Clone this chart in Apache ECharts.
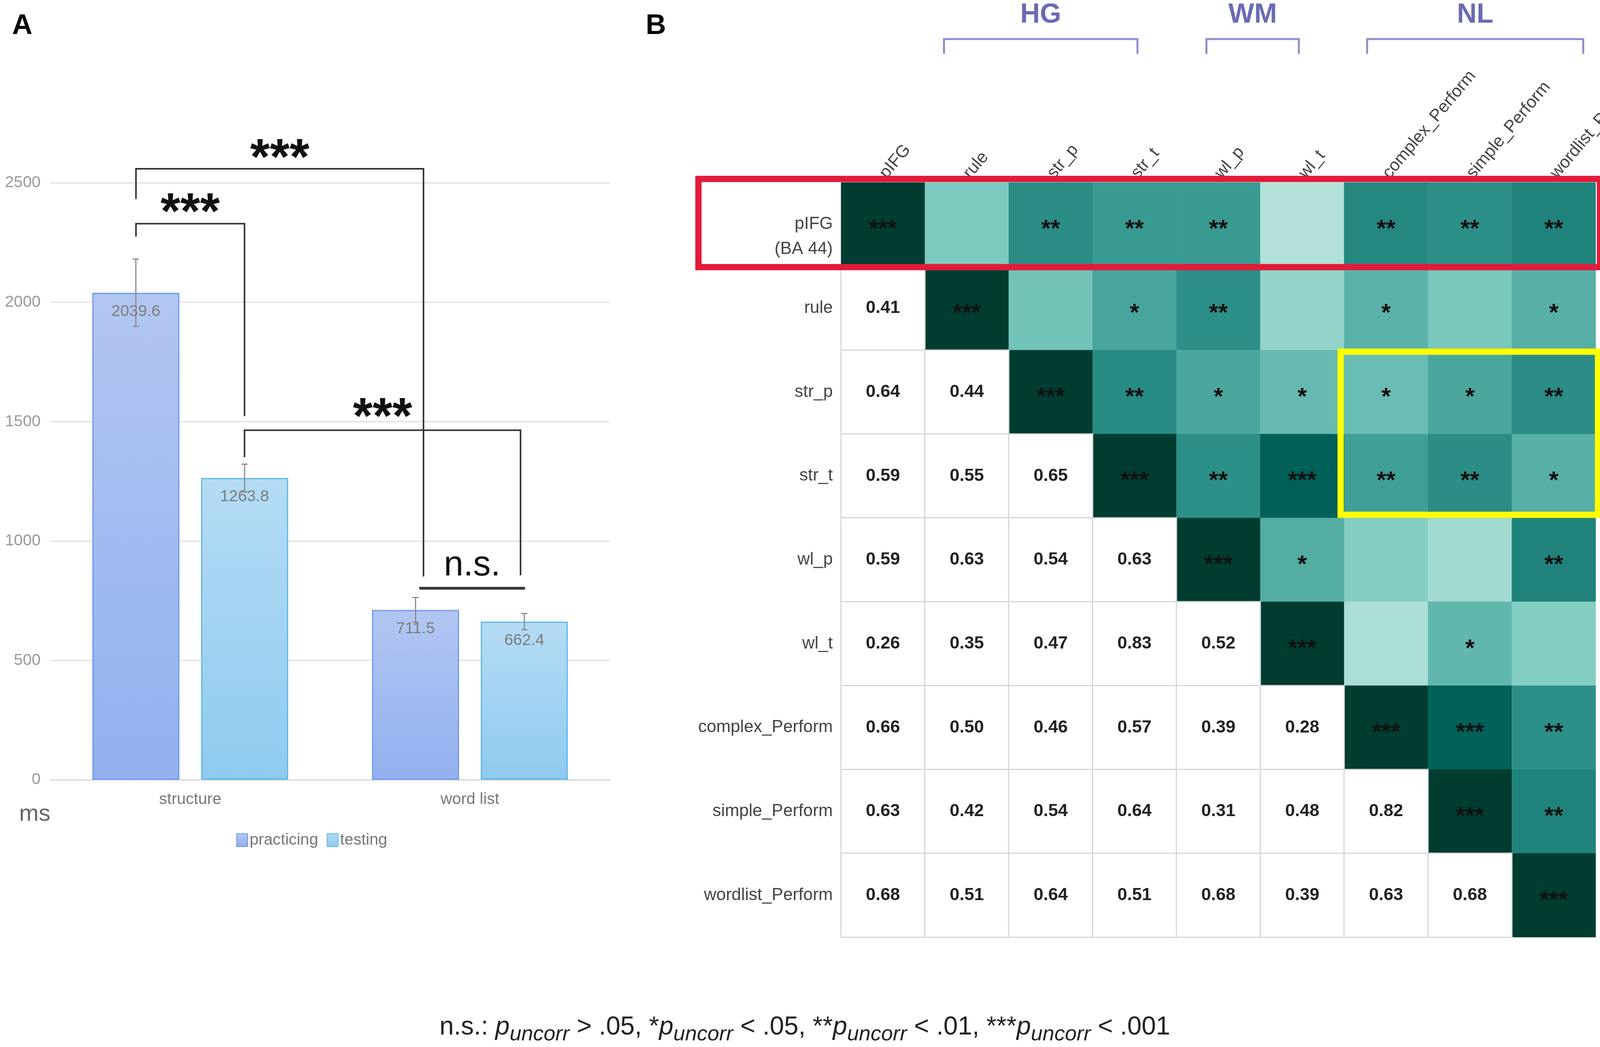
<!DOCTYPE html>
<html>
<head>
<meta charset="utf-8">
<script src="https://cdn.jsdelivr.net/npm/echarts@6/dist/echarts.min.js"></script>
<style>
  html, body { margin: 0; padding: 0; background: #fff; }
  #main { width: 4316px; height: 2680px; }
</style>
</head>
<body>
<div id="main"></div>
<script>
// panel A: reaction times
let conditions = ['structure', 'word list']
let practicing = [2039.6, 711.5]
let testing = [1263.8, 662.4]
let practicingErr = [141, 52]
let testingErr = [58, 34]

// significance brackets: [xFrom, xTo, yLeftEnd, yTop, yRightEnd, labelY, label]
// x in category units (0 = structure, 1 = word list), y in ms
let brackets = [
    [-0.194, 0.834, 2432, 2559, 851, 2594, '***'],
    [-0.194, 0.194, 2275, 2329, 1523, 2367, '***'],
    [0.194, 1.181, 1351, 1464, 856, 1510, '***'],
    [0.819, 1.197, 802, 802, 802, 897, 'n.s.']
]

// panel B: correlation matrix
let vars = ['pIFG', 'rule', 'str_p', 'str_t', 'wl_p', 'wl_t', 'complex_Perform', 'simple_Perform', 'wordlist_Perform']
let corrLower = [
    [],
    [0.41],
    [0.64, 0.44],
    [0.59, 0.55, 0.65],
    [0.59, 0.63, 0.54, 0.63],
    [0.26, 0.35, 0.47, 0.83, 0.52],
    [0.66, 0.50, 0.46, 0.57, 0.39, 0.28],
    [0.63, 0.42, 0.54, 0.64, 0.31, 0.48, 0.82],
    [0.68, 0.51, 0.64, 0.51, 0.68, 0.39, 0.63, 0.68]
]
// number of stars in the upper triangle, row i starting at the diagonal
let starsUpper = [
    [3, 0, 2, 2, 2, 0, 2, 2, 2],
    [3, 0, 1, 2, 0, 1, 0, 1],
    [3, 2, 1, 1, 1, 1, 2],
    [3, 2, 3, 2, 2, 1],
    [3, 1, 0, 0, 2],
    [3, 0, 1, 0],
    [3, 3, 2],
    [3, 2],
    [3]
]
// variable groups over the columns: [name, from, to] in column units
let colGroups = [
    ['HG', 0.728, 3.035],
    ['WM', 3.858, 4.96],
    ['NL', 5.774, 8.351]
]
// highlighted blocks: [colFrom, colTo, rowFrom, rowTo]
let highlights = [
    [0, 8, 0, 0],
    [6, 8, 2, 3]
]
let brbg = ['#543005', '#8c510a', '#bf812d', '#dfc27d', '#f6e8c3', '#ffffff',
    '#c7eae5', '#80cdc1', '#35978f', '#01665e', '#003c30']

const FONT = 'Liberation Sans, Arial, sans-serif'

// cells
let upperCells = []
let lowerCells = []
for (let i = 0; i < vars.length; i++) {
    for (let j = 0; j < vars.length; j++) {
        if (j >= i) {
            let r = j === i ? 1 : corrLower[j][i]
            upperCells.push([j, i, r, starsUpper[i][j - i]])
        } else {
            lowerCells.push([j, i, corrLower[i][j]])
        }
    }
}

// bar offset inside a category (barCategoryGap 30%, barGap 25%)
const catGap = 0.30, barGap = 0.25
const barW = (1 - catGap) / (2 + barGap)
const barOffset = (barW * (1 + barGap)) / 2

function catX(api, t) {
    return api.coord([0, 0])[0] + t * api.size([1, 1])[0]
}

function vGrad(top, bottom) {
    return new echarts.graphic.LinearGradient(0, 0, 0, 1, [
        {offset: 0, color: top}, {offset: 1, color: bottom}
    ])
}

let barLabel = {
    show: true,
    position: 'insideTop',
    distance: 28,
    fontSize: 41,
    fontFamily: FONT,
    color: '#7d7d7d',
    formatter: p => p.value.toFixed(1)
}

let myChart = echarts.init(document.getElementById('main'))

let option = {
    backgroundColor: '#fff',
    animation: false,
    title: [
        {text: 'A', left: 26, top: 26, textStyle: {fontSize: 72, fontWeight: 'bold', color: '#000', fontFamily: FONT}},
        {text: 'B', left: 1648, top: 26, textStyle: {fontSize: 72, fontWeight: 'bold', color: '#000', fontFamily: FONT}},
        {
            text: 'n.s.: {i|p}{s|uncorr} > .05, *{i|p}{s|uncorr} < .05, **{i|p}{s|uncorr} < .01, ***{i|p}{s|uncorr} < .001',
            left: 1120, top: 2580,
            textStyle: {
                fontSize: 66, color: '#222', fontWeight: 'normal', fontFamily: FONT, lineHeight: 90,
                rich: {
                    i: {fontSize: 66, fontStyle: 'italic', color: '#222', fontFamily: FONT, lineHeight: 90},
                    s: {fontSize: 54, fontStyle: 'italic', color: '#222', fontFamily: FONT, lineHeight: 54, verticalAlign: 'bottom'}
                }
            }
        }
    ],
    legend: {
        data: ['practicing', 'testing'],
        left: 600, top: 2125,
        icon: 'rect',
        itemWidth: 28, itemHeight: 33, itemGap: 22,
        textStyle: {fontSize: 41, color: '#777', fontFamily: FONT}
    },
    visualMap: {
        type: 'continuous',
        show: false,
        min: -1, max: 1,
        dimension: 2,
        seriesIndex: 3,
        inRange: {color: brbg}
    },
    grid: [
        {left: 129, top: 468, width: 1432, height: 1528, outerBoundsMode: 'none'},
        {left: 2153, top: 467, width: 1932, height: 1932, outerBoundsMode: 'none'},
        {left: 4120, top: 467, width: 72, height: 1933, outerBoundsMode: 'none'}
    ],
    xAxis: [
        {
            gridIndex: 0, type: 'category', data: conditions,
            axisTick: {show: false},
            axisLine: {lineStyle: {color: '#d4d4d4', width: 3}},
            axisLabel: {fontSize: 41, color: '#777', margin: 30, fontFamily: FONT}
        },
        {
            gridIndex: 1, type: 'category', data: vars, position: 'top',
            axisTick: {show: false}, axisLine: {show: false},
            axisLabel: {rotate: -50, interval: 0, fontSize: 44, color: '#444', margin: 16, fontFamily: FONT}
        },
        {gridIndex: 2, type: 'category', data: ['c'], show: false}
    ],
    yAxis: [
        {
            gridIndex: 0, type: 'value', min: 0, max: 2500, interval: 500,
            name: 'ms', nameLocation: 'start', nameGap: 58,
            nameTextStyle: {fontSize: 60, color: '#666', fontFamily: FONT, padding: [0, 80, 0, 0]},
            axisLine: {show: false}, axisTick: {show: false},
            axisLabel: {fontSize: 41, color: '#999', margin: 25, fontFamily: FONT, formatter: v => String(v)},
            splitLine: {lineStyle: {color: '#e0e0e0', width: 3}}
        },
        {
            gridIndex: 1, type: 'category', data: vars, inverse: true,
            axisTick: {show: false}, axisLine: {show: false},
            axisLabel: {
                fontSize: 44, color: '#444', margin: 21, fontFamily: FONT, lineHeight: 64,
                formatter: v => v === 'pIFG' ? '\npIFG\n(BA 44)' : v
            }
        },
        {
            gridIndex: 2, type: 'value', min: -1, max: 1, interval: 0.2, position: 'right',
            axisLine: {show: true, lineStyle: {color: '#333', width: 3}},
            axisTick: {show: true, length: 13, lineStyle: {color: '#333', width: 3}},
            axisLabel: {fontSize: 35, color: '#444', margin: 54, fontFamily: FONT},
            splitLine: {show: false}
        }
    ],
    series: [
        {
            name: 'practicing', type: 'bar', xAxisIndex: 0, yAxisIndex: 0,
            data: practicing, barGap: '25%', barCategoryGap: '30%',
            itemStyle: {color: vGrad('#b2c6f2', '#93b0ef'), borderColor: '#6f96e8', borderWidth: 3},
            label: barLabel
        },
        {
            name: 'testing', type: 'bar', xAxisIndex: 0, yAxisIndex: 0,
            data: testing, barGap: '25%', barCategoryGap: '30%',
            itemStyle: {color: vGrad('#b4dbf4', '#8ecbef'), borderColor: '#5cb6e6', borderWidth: 3},
            label: barLabel
        },
        {
            // error bars
            type: 'custom', xAxisIndex: 0, yAxisIndex: 0, clip: false, z: 5,
            data: practicing.map((v, i) => [i, v, practicingErr[i], -1])
                .concat(testing.map((v, i) => [i, v, testingErr[i], 1])),
            renderItem: (params, api) => {
                let i = api.value(0), v = api.value(1), e = api.value(2), side = api.value(3)
                let x = catX(api, i + side * barOffset)
                let y1 = api.coord([0, v + e])[1]
                let y2 = api.coord([0, v - e])[1]
                let st = {stroke: '#8a8a8a', lineWidth: 3}
                return {
                    type: 'group', children: [
                        {type: 'line', shape: {x1: x, y1: y1, x2: x, y2: y2}, style: st},
                        {type: 'line', shape: {x1: x - 8, y1: y1, x2: x + 8, y2: y1}, style: st},
                        {type: 'line', shape: {x1: x - 8, y1: y2, x2: x + 8, y2: y2}, style: st}
                    ]
                }
            }
        },
        {
            // correlation cells, upper triangle
            type: 'heatmap', xAxisIndex: 1, yAxisIndex: 1,
            data: upperCells,
            itemStyle: {borderWidth: 0},
            label: {
                show: true, fontSize: 62, fontWeight: 'bold', color: '#111', fontFamily: FONT,
                offset: [0, 14],
                formatter: p => '*'.repeat(p.value[3])
            },
            emphasis: {disabled: true}
        },
        {
            // correlation values, lower triangle
            type: 'heatmap', xAxisIndex: 1, yAxisIndex: 1,
            data: lowerCells,
            itemStyle: {color: '#fff', borderColor: '#d6d6d6', borderWidth: 3},
            label: {
                show: true, fontSize: 45, fontWeight: 'bold', color: '#222', fontFamily: FONT,
                formatter: p => p.value[2].toFixed(2)
            },
            emphasis: {disabled: true}
        },
        {
            // significance brackets in panel A
            type: 'custom', xAxisIndex: 0, yAxisIndex: 0, clip: false, z: 6,
            data: brackets.map(b => b.slice(0, 6)),
            renderItem: (params, api) => {
                let b = brackets[params.dataIndex]
                let x0 = catX(api, b[0]), x1 = catX(api, b[1])
                let yL = api.coord([0, b[2]])[1], yT = api.coord([0, b[3]])[1], yR = api.coord([0, b[4]])[1]
                let yLab = api.coord([0, b[5]])[1]
                let isNs = b[6] === 'n.s.'
                return {
                    type: 'group', children: [
                        {
                            type: 'polyline',
                            shape: {points: [[x0, yL], [x0, yT], [x1, yT], [x1, yR]]},
                            style: {stroke: '#333', lineWidth: isNs ? 7 : 4, fill: null}
                        },
                        {
                            type: 'text', x: (x0 + x1) / 2, y: yLab,
                            style: {
                                text: b[6], fill: '#111', fontFamily: FONT,
                                fontSize: isNs ? 90 : 130, fontWeight: isNs ? 'normal' : 'bold',
                                align: 'center', verticalAlign: 'middle'
                            }
                        }
                    ]
                }
            }
        },
        {
            // group headers over the matrix
            type: 'custom', xAxisIndex: 1, yAxisIndex: 1, clip: false, z: 6,
            data: colGroups.map(g => [g[1], g[2]]),
            renderItem: (params, api) => {
                let g = colGroups[params.dataIndex]
                let x0 = catX(api, g[1]), x1 = catX(api, g[2])
                let top = api.coord([0, 0])[1] - api.size([1, 1])[1] / 2
                let yT = top - 367, yLeg = top - 329
                return {
                    type: 'group', children: [
                        {
                            type: 'polyline',
                            shape: {points: [[x0, yLeg], [x0, yT], [x1, yT], [x1, yLeg]]},
                            style: {stroke: '#8c8cd2', lineWidth: 5, fill: null}
                        },
                        {
                            type: 'text', x: (x0 + x1) / 2, y: top - 428,
                            style: {
                                text: g[0], fill: '#6a6ab4', fontFamily: FONT, fontSize: 70, fontWeight: 'bold',
                                align: 'center', verticalAlign: 'middle'
                            }
                        }
                    ]
                }
            }
        },
        {
            // highlight boxes
            type: 'custom', xAxisIndex: 1, yAxisIndex: 1, clip: false, z: 7,
            data: highlights,
            renderItem: (params, api) => {
                let h = highlights[params.dataIndex]
                let cw = api.size([1, 1])[0], ch = api.size([1, 1])[1]
                let c0 = api.coord([0, 0])
                let left = c0[0] - cw / 2 + h[0] * cw
                let right = c0[0] - cw / 2 + (h[1] + 1) * cw
                let top = c0[1] - ch / 2 + h[2] * ch
                let bottom = c0[1] - ch / 2 + (h[3] + 1) * ch
                // red box reaches over the row label, yellow box sits on the cells
                let pad = params.dataIndex === 0 ? [365, 11, 9, -2] : [9, 6, -4, 8]
                let color = params.dataIndex === 0 ? '#e31b3b' : '#ffff00'
                return {
                    type: 'rect',
                    shape: {
                        x: left - pad[0], y: top - pad[2],
                        width: right - left + pad[0] + pad[1],
                        height: bottom - top + pad[2] - pad[3]
                    },
                    style: {stroke: color, lineWidth: 16, fill: null}
                }
            }
        },
        {
            // colour bar
            type: 'custom', xAxisIndex: 2, yAxisIndex: 2, clip: false,
            data: [[0, 1]],
            renderItem: (params, api) => {
                let top = api.coord([0, 1])
                let bottom = api.coord([0, -1])
                let w = api.size([1, 1])[0]
                let stops = brbg.map((c, k) => ({offset: k / (brbg.length - 1), color: brbg[brbg.length - 1 - k]}))
                return {
                    type: 'rect',
                    shape: {x: top[0] - w / 2, y: top[1], width: w, height: bottom[1] - top[1]},
                    style: {fill: new echarts.graphic.LinearGradient(0, 0, 0, 1, stops), stroke: '#444', lineWidth: 2}
                }
            }
        }
    ]
}

myChart.setOption(option)
</script>
</body>
</html>
